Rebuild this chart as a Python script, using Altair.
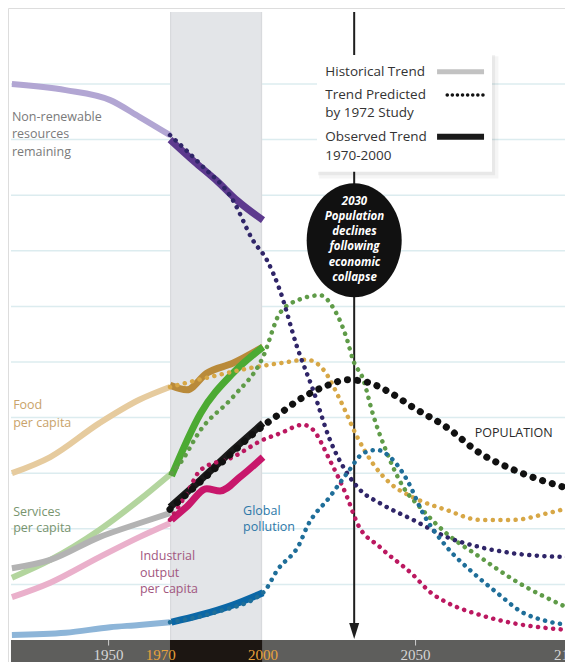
import altair as alt
import pandas as pd

# ---------------- data (year, index value; one grid step = 1) ----------------
res_hist_x = [1918.5, 1936, 1950.5, 1960, 1970]
res_hist_y = [10.0, 9.89, 9.71, 9.41, 9.08]
res_obs_x = [1970, 1978, 1985, 1992, 2000.3]
res_obs_y = [9.0, 8.6, 8.27, 7.9, 7.55]
res_pred_x = [1970, 1980, 1990.5, 1997, 2001.6, 2005.8, 2011.4, 2016.6, 2022.1, 2027.7, 2031.9, 2038.4, 2049.2, 2060.2, 2071, 2081.7, 2099.5]
res_pred_y = [9.08, 8.55, 7.91, 7.19, 6.83, 6.29, 5.27, 4.50, 3.60, 3.00, 2.70, 2.46, 2.16, 1.85, 1.67, 1.56, 1.49]

food_hist_x = [1918.5, 1931, 1947, 1960, 1970]
food_hist_y = [3.0, 3.29, 3.9, 4.32, 4.55]
food_obs_x = [1970, 1975.5, 1982, 1990.5, 2000.3]
food_obs_y = [4.58, 4.5, 4.8, 4.98, 5.27]
food_pred_x = [1970, 1983, 1995, 2006, 2014.6, 2020, 2025.4, 2031, 2036, 2041.7, 2049, 2060, 2071, 2082, 2093, 2099.5]
food_pred_y = [4.55, 4.73, 4.88, 4.98, 5.04, 4.86, 4.32, 3.65, 3.18, 2.82, 2.57, 2.34, 2.16, 2.16, 2.28, 2.37]

serv_hist_x = [1918.5, 1931, 1947, 1960, 1970.5]
serv_hist_y = [1.12, 1.44, 1.98, 2.52, 3.0]
serv_obs_x = [1970.5, 1980, 1990.5, 2000.3]
serv_obs_y = [2.95, 4.08, 4.8, 5.27]
serv_pred_x = [1970.5, 1973.3, 1980, 1990.5, 2000.3, 2005.8, 2012, 2019, 2023, 2027.7, 2029.6, 2033, 2036, 2040.7, 2046, 2051.4, 2060, 2071, 2082, 2099.5]
serv_pred_y = [3.0, 3.18, 3.78, 4.37, 5.09, 5.88, 6.12, 6.20, 5.99, 5.40, 5.04, 4.68, 4.08, 3.36, 2.75, 2.39, 1.92, 1.49, 1.08, 0.58]

pop_hist_x = [1918.5, 1931, 1947, 1960, 1970]
pop_hist_y = [1.29, 1.44, 1.85, 2.10, 2.28]
pop_obs_x = [1970, 1980, 1990.5, 2000.3]
pop_obs_y = [2.39, 2.88, 3.42, 3.9]
pop_pred_x = [1970, 1985, 2000.3, 2006, 2012, 2020, 2028, 2034, 2042, 2049, 2060, 2071, 2082, 2099.5]
pop_pred_y = [2.35, 3.1, 3.85, 4.08, 4.32, 4.55, 4.68, 4.64, 4.44, 4.19, 3.83, 3.36, 3.06, 2.73]

ind_hist_x = [1918.5, 1931, 1947, 1960, 1970]
ind_hist_y = [0.77, 1.03, 1.49, 1.85, 2.10]
ind_obs_x = [1970.5, 1975.5, 1982, 1986.3, 1992.8, 2000.3]
ind_obs_y = [2.16, 2.40, 2.72, 2.68, 2.93, 3.29]
ind_pred_x = [1970, 1975.5, 1980, 1990.5, 2000.3, 2006, 2013.3, 2016.6, 2022, 2027.7, 2031, 2038.4, 2049, 2055, 2060, 2071, 2082, 2092, 2099.5]
ind_pred_y = [2.16, 2.64, 3.06, 3.29, 3.6, 3.72, 3.87, 3.78, 3.24, 2.57, 2.10, 1.67, 1.18, 0.85, 0.68, 0.45, 0.30, 0.22, 0.18]

pol_hist_x = [1918.5, 1936, 1950.5, 1960, 1970]
pol_hist_y = [0.09, 0.13, 0.23, 0.27, 0.32]
pol_obs_x = [1970.5, 1980, 1990.5, 2000.3]
pol_obs_y = [0.32, 0.45, 0.63, 0.85]
pol_pred_x = [1970, 1985, 2000.3, 2005, 2012.3, 2014.6, 2022, 2027.7, 2033, 2037.4, 2041.7, 2047.2, 2052.4, 2060.2, 2068.7, 2076.5, 2085, 2092, 2099.5]
pol_pred_y = [0.32, 0.5, 0.85, 1.26, 1.74, 2.03, 2.57, 3.0, 3.36, 3.42, 3.29, 2.88, 2.28, 1.67, 1.21, 0.85, 0.49, 0.35, 0.27]

grid_values = [1, 2, 3, 4, 5, 6, 7, 8, 9, 10]
tick_years = [1950, 2050, 2100]
tick_labels = ["1950", "1970", "2000", "2050", "2100"]
tick_label_years = [1950, 1967, 2000.3, 2050, 2100]
tick_colors = ["#d6d6d6", "#e8a33d", "#e8a33d", "#d6d6d6", "#d6d6d6"]

# (text with line breaks, year, value of first line, colour, line height px)
series_labels = [
    ("Non-renewable\nresources\nremaining", 1918.5, 9.41, "#7a7a7a", 17.5),
    ("Food\nper capita", 1918.9, 4.23, "#c9a36a", 18),
    ("Services\nper capita", 1918.9, 2.31, "#78946e", 16.5),
    ("Industrial\noutput\nper capita", 1960.2, 1.51, "#a2577f", 16.5),
    ("Global\npollution", 1993.8, 2.32, "#2d78a8", 16.5),
    ("POPULATION", 2069.3, 3.72, "#2a2a2a", 15),
]

legend_lines = ["Historical Trend", "Trend Predicted", "by 1972 Study", "Observed Trend", "1970-2000"]
legend_vals = [10.22, 9.80, 9.48, 9.05, 8.70]

circle_text = "2030\nPopulation\ndeclines\nfollowing\neconomic\ncollapse"
circle_first_val = 7.88

# ---------------- scales ----------------
W, H = 557, 654
PX_PER_YEAR = 3.0698
X0 = 1917.23
X1 = X0 + W / PX_PER_YEAR
Y0, Y1 = -0.396, 11.367
TOP = 11.295
xs = alt.Scale(domain=[X0, X1], nice=False, zero=False)
ys = alt.Scale(domain=[Y0, Y1], nice=False, zero=False)


def X(f="year"):
    return alt.X(f"{f}:Q", scale=xs, axis=None)


def Y(f="value"):
    return alt.Y(f"{f}:Q", scale=ys, axis=None)


def rect(x1, x2, y1, y2, color, opacity=1.0):
    d = pd.DataFrame({"year": [x1], "year2": [x2], "value": [y1], "value2": [y2]})
    return alt.Chart(d).mark_rect(color=color, opacity=opacity).encode(
        x=X(), x2="year2:Q", y=Y(), y2="value2:Q")


def line(xv, yv, color, width, dotted=False, dot_gap=7.5):
    d = pd.DataFrame({"year": xv, "value": yv, "o": list(range(len(xv)))})
    kw = dict(color=color, strokeWidth=width, interpolate="monotone")
    if dotted:
        kw.update(strokeDash=[0.1, dot_gap], strokeCap="round")
    else:
        kw.update(strokeCap="butt")
    return alt.Chart(d).mark_line(**kw).encode(x=X(), y=Y(), order="o:Q")


layers = []

# grid lines
grid = pd.DataFrame({"value": grid_values, "year": [1918.2] * 10, "year2": [X1] * 10})
layers.append(alt.Chart(grid).mark_rule(color="#dcecef", strokeWidth=1.5).encode(
    y=Y(), x=X(), x2="year2:Q"))

# 1970-2000 band
layers.append(rect(1970, 2000, 0, TOP, "#e3e5e8"))
layers.append(rect(1970, 1970.4, 0, TOP, "#d8dadd"))
layers.append(rect(1999.6, 2000, 0, TOP, "#d8dadd"))

# axis band
layers.append(rect(1918.2, X1, Y0, 0, "#5e5e5c"))
layers.append(rect(1970, 2000, Y0, 0, "#1c1612"))
ticks = pd.DataFrame({"year": tick_years, "value": [0] * 3, "value2": [-0.1] * 3})
layers.append(alt.Chart(ticks).mark_rule(color="#cfcfcf", strokeWidth=1).encode(
    x=X(), y=Y(), y2="value2:Q"))
tdf = pd.DataFrame({"year": tick_label_years, "value": [-0.27] * 5, "t": tick_labels, "c": tick_colors})
layers.append(alt.Chart(tdf).mark_text(font="Liberation Sans Narrow", fontSize=15, baseline="middle", align="center").encode(
    x=X(), y=Y(), text="t:N", color=alt.Color("c:N", scale=None)))

# historical trends
layers += [
    line(res_hist_x, res_hist_y, "#b2a6d3", 6),
    line(food_hist_x, food_hist_y, "#e6cb9e", 6),
    line(serv_hist_x, serv_hist_y, "#b3d59e", 6),
    line(pop_hist_x, pop_hist_y, "#b3b3b3", 6),
    line(ind_hist_x, ind_hist_y, "#eab0cb", 6),
    line(pol_hist_x, pol_hist_y, "#8db5d8", 6),
]

# 2030 vertical rule + arrow
vr = pd.DataFrame({"year": [2030], "value": [TOP], "value2": [0.3]})
layers.append(alt.Chart(vr).mark_rule(color="#1e1e1e", strokeWidth=2).encode(x=X(), y=Y(), y2="value2:Q"))
arr = pd.DataFrame({"year": [2030], "value": [0.16]})
layers.append(alt.Chart(arr).mark_point(shape="M-1,-1.6L1,-1.6L0,1.6Z", size=100, filled=True,
                                         color="#1e1e1e", opacity=1).encode(x=X(), y=Y()))

# observed trends
layers += [
    line(res_obs_x, res_obs_y, "#5d3a8e", 7),
    line(food_obs_x, food_obs_y, "#b98a3a", 7),
    line(serv_obs_x, serv_obs_y, "#4caa33", 7),
    line(pop_obs_x, pop_obs_y, "#1a1a1a", 7),
    line(ind_obs_x, ind_obs_y, "#c8176b", 7),
    line(pol_obs_x, pol_obs_y, "#0b67a6", 7),
]

# predicted trends (dotted)
layers += [
    line(food_pred_x, food_pred_y, "#d7a746", 4.5, True),
    line(serv_pred_x, serv_pred_y, "#5f9b48", 4.5, True),
    line(res_pred_x, res_pred_y, "#2f2568", 4.5, True),
    line(ind_pred_x, ind_pred_y, "#bb1860", 4.5, True),
    line(pol_pred_x, pol_pred_y, "#1f6e99", 4.5, True),
    line(pop_pred_x, pop_pred_y, "#111111", 7, True, 10),
]

# series labels (one multi-line text each)
for t, yr, v, c, lh in series_labels:
    d = pd.DataFrame({"t": [t], "year": [yr], "value": [v]})
    layers.append(alt.Chart(d).mark_text(font="Open Sans", fontSize=12.5, align="left", baseline="middle",
                                         lineBreak="\n", lineHeight=lh, color=c).encode(
        x=X(), y=Y(), text="t:N"))

# legend box
layers.append(rect(2018.6, 2077.0, 8.30, 10.50, "#000000", 0.04))
layers.append(rect(2018.2, 2075.9, 8.36, 10.52, "#000000", 0.05))
layers.append(rect(2017.9, 2074.9, 8.42, 10.52, "#ffffff"))
ld = pd.DataFrame({"t": legend_lines, "value": legend_vals, "year": [2020.6] * 5})
layers.append(alt.Chart(ld).mark_text(font="Open Sans", fontSize=13.5, align="left", baseline="middle", color="#333333").encode(
    x=X(), y=Y(), text="t:N"))
layers.append(line([2057.0, 2072.3], [10.22, 10.22], "#c2c2c2", 5))
layers.append(line([2060.3, 2072.3], [9.80, 9.80], "#111111", 3.5, True, 5))
layers.append(line([2057.0, 2072.3], [9.05, 9.05], "#1a1a1a", 6))

# 2030 bubble
bub = pd.DataFrame({"year": [2030], "value": [7.19]})
layers.append(alt.Chart(bub).mark_point(
    shape="M0,-1.2A1,1.2 0 1,1 0,1.2A1,1.2 0 1,1 0,-1.2Z", size=9025, filled=True,
    color="#111111", opacity=1).encode(x=X(), y=Y()))
cd = pd.DataFrame({"t": [circle_text], "value": [circle_first_val], "year": [2030.1]})
layers.append(alt.Chart(cd).mark_text(font="Open Sans", fontSize=11.5, fontWeight="bold", fontStyle="italic",
                                      align="center", baseline="middle", lineBreak="\n", lineHeight=15.2,
                                      color="#ffffff").encode(
    x=X(), y=Y(), text="t:N"))

chart = alt.layer(*layers).properties(
    width=W, height=H, padding=0, autosize=alt.AutoSizeParams(type="none")
).configure_view(strokeWidth=0).configure(background="#ffffff")

chart.save("out.html", embed_options={"renderer": "svg", "actions": False})
